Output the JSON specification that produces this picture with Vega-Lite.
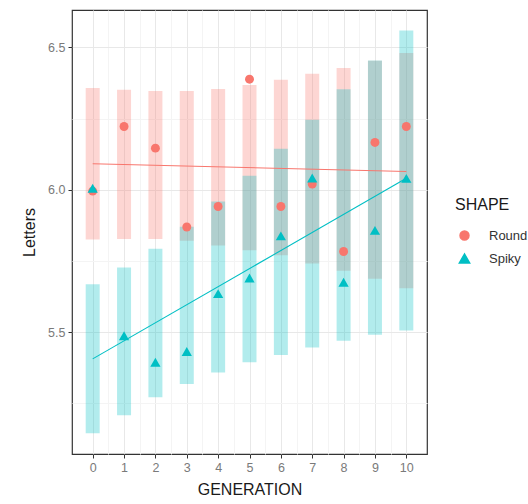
{
  "$schema": "https://vega.github.io/schema/vega-lite/v6.json",
  "width": 355,
  "height": 444,
  "autosize": {"type": "none"},
  "padding": {"left": 72, "top": 10, "right": 101, "bottom": 50},
  "background": "white",
  "config": {
    "font": "Liberation Sans",
    "view": {"stroke": "#333333", "strokeWidth": 1.2},
    "axis": {
      "domain": false,
      "labelFont": "Liberation Sans",
      "titleFont": "Liberation Sans",
      "labelFontSize": 12.5,
      "labelColor": "#7a7a7a",
      "titleFontSize": 16,
      "titleFontWeight": "normal",
      "titleColor": "#1a1a1a",
      "tickSize": 4,
      "labelPadding": 3
    },
    "legend": {
      "orient": "none",
      "legendX": 383,
      "legendY": 187,
      "padding": 0,
      "titleFontSize": 16,
      "titleFontWeight": "normal",
      "titleColor": "#1a1a1a",
      "titlePadding": 16,
      "labelFontSize": 13,
      "labelColor": "#333333",
      "labelOffset": 18,
      "symbolOffset": 3,
      "symbolOpacity": 1,
      "rowPadding": 8
    }
  },
  "datasets": {
    "stats": [
      {"GENERATION": 0, "SHAPE": "Round", "lo": 5.825, "hi": 6.357, "mean": 5.995},
      {"GENERATION": 1, "SHAPE": "Round", "lo": 5.827, "hi": 6.351, "mean": 6.222},
      {"GENERATION": 2, "SHAPE": "Round", "lo": 5.827, "hi": 6.347, "mean": 6.146},
      {"GENERATION": 3, "SHAPE": "Round", "lo": 5.821, "hi": 6.347, "mean": 5.869},
      {"GENERATION": 4, "SHAPE": "Round", "lo": 5.804, "hi": 6.354, "mean": 5.941},
      {"GENERATION": 5, "SHAPE": "Round", "lo": 5.787, "hi": 6.368, "mean": 6.388},
      {"GENERATION": 6, "SHAPE": "Round", "lo": 5.77, "hi": 6.386, "mean": 5.941},
      {"GENERATION": 7, "SHAPE": "Round", "lo": 5.741, "hi": 6.407, "mean": 6.02},
      {"GENERATION": 8, "SHAPE": "Round", "lo": 5.715, "hi": 6.427, "mean": 5.783},
      {"GENERATION": 9, "SHAPE": "Round", "lo": 5.687, "hi": 6.453, "mean": 6.166},
      {"GENERATION": 10, "SHAPE": "Round", "lo": 5.654, "hi": 6.48, "mean": 6.222},
      {"GENERATION": 0, "SHAPE": "Spiky", "lo": 5.145, "hi": 5.668, "mean": 6.005},
      {"GENERATION": 1, "SHAPE": "Spiky", "lo": 5.208, "hi": 5.727, "mean": 5.487},
      {"GENERATION": 2, "SHAPE": "Spiky", "lo": 5.271, "hi": 5.793, "mean": 5.394},
      {"GENERATION": 3, "SHAPE": "Spiky", "lo": 5.318, "hi": 5.87, "mean": 5.432},
      {"GENERATION": 4, "SHAPE": "Spiky", "lo": 5.358, "hi": 5.959, "mean": 5.635},
      {"GENERATION": 5, "SHAPE": "Spiky", "lo": 5.394, "hi": 6.049, "mean": 5.69},
      {"GENERATION": 6, "SHAPE": "Spiky", "lo": 5.42, "hi": 6.144, "mean": 5.838},
      {"GENERATION": 7, "SHAPE": "Spiky", "lo": 5.446, "hi": 6.246, "mean": 6.041},
      {"GENERATION": 8, "SHAPE": "Spiky", "lo": 5.47, "hi": 6.353, "mean": 5.675},
      {"GENERATION": 9, "SHAPE": "Spiky", "lo": 5.491, "hi": 6.454, "mean": 5.857},
      {"GENERATION": 10, "SHAPE": "Spiky", "lo": 5.506, "hi": 6.559, "mean": 6.04}
    ],
    "fit": [
      {"GENERATION": 0, "SHAPE": "Round", "fit": 6.091},
      {"GENERATION": 10, "SHAPE": "Round", "fit": 6.064},
      {"GENERATION": 0, "SHAPE": "Spiky", "fit": 5.406},
      {"GENERATION": 10, "SHAPE": "Spiky", "fit": 6.04}
    ]
  },
  "encoding": {
    "x": {
      "field": "GENERATION",
      "type": "quantitative",
      "title": "GENERATION",
      "scale": {"domain": [-0.5, 10.5], "nice": false, "zero": false},
      "axis": {
        "values": [0, 0.5, 1, 1.5, 2, 2.5, 3, 3.5, 4, 4.5, 5, 5.5, 6, 6.5, 7, 7.5, 8, 8.5, 9, 9.5, 10],
        "labelExpr": "datum.value % 1 === 0 ? format(datum.value, 'd') : ''",
        "grid": true,
        "gridColor": {"condition": {"test": "datum.value % 1 !== 0", "value": "#f4f4f4"}, "value": "#e8e8e8"},
        "tickColor": {"condition": {"test": "datum.value % 1 !== 0", "value": "transparent"}, "value": "#333333"},
        "titleY": 35,
        "titleBaseline": "middle"
      }
    },
    "color": {
      "field": "SHAPE",
      "type": "nominal",
      "title": "SHAPE",
      "scale": {"domain": ["Round", "Spiky"], "range": ["#F8766D", "#00BFC4"]},
      "legend": {"title": "SHAPE"}
    }
  },
  "layer": [
    {
      "data": {"name": "stats"},
      "mark": {"type": "bar", "size": 14, "opacity": 0.3},
      "encoding": {
        "y": {
          "field": "lo",
          "type": "quantitative",
          "title": "Letters",
          "scale": {"domain": [5.072, 6.631], "nice": false, "zero": false},
          "axis": {
            "values": [5.25, 5.5, 5.75, 6, 6.25, 6.5],
            "labelExpr": "(datum.value * 4) % 2 === 0 ? format(datum.value, '.1f') : ''",
            "grid": true,
            "gridColor": {"condition": {"test": "(datum.value * 4) % 2 !== 0", "value": "#f4f4f4"}, "value": "#e8e8e8"},
            "tickColor": {"condition": {"test": "(datum.value * 4) % 2 !== 0", "value": "transparent"}, "value": "#333333"},
            "titleX": -43,
            "titleY": 222,
            "titleAngle": -90,
            "titleAlign": "center",
            "titleBaseline": "middle"
          }
        },
        "y2": {"field": "hi"}
      }
    },
    {
      "data": {"name": "fit"},
      "mark": {"type": "line", "strokeWidth": 1.1},
      "encoding": {
        "y": {"field": "fit", "type": "quantitative"}
      }
    },
    {
      "data": {"name": "stats"},
      "mark": {"type": "point", "filled": true, "opacity": 1},
      "encoding": {
        "y": {"field": "mean", "type": "quantitative"},
        "size": {
          "field": "SHAPE",
          "type": "nominal",
          "scale": {"domain": ["Round", "Spiky"], "range": [80, 105]},
          "legend": null
        },
        "shape": {
          "field": "SHAPE",
          "type": "nominal",
          "scale": {"domain": ["Round", "Spiky"], "range": ["circle", "triangle-up"]},
          "legend": null
        }
      }
    }
  ]
}
